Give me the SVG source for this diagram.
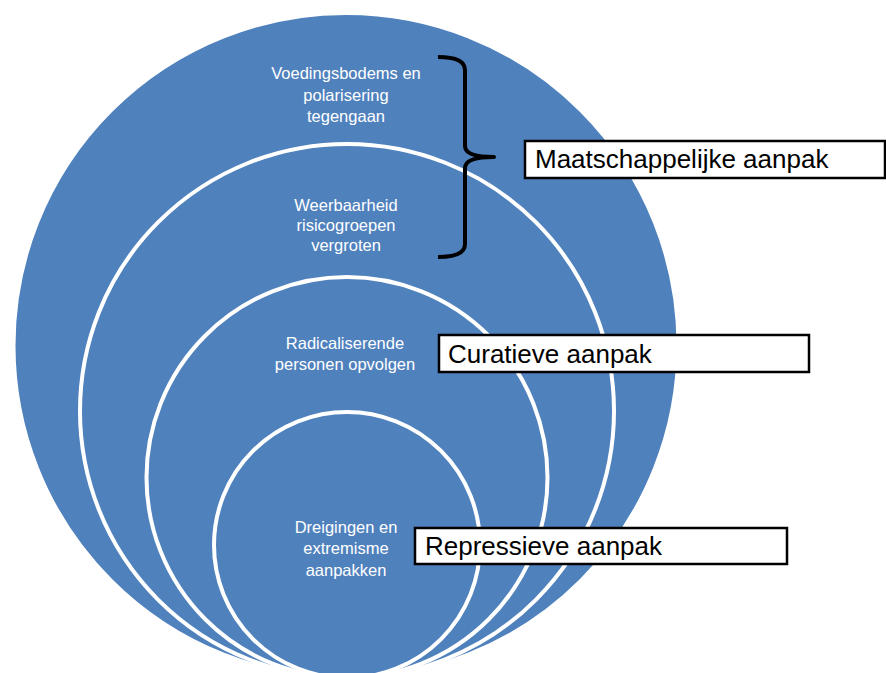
<svg xmlns="http://www.w3.org/2000/svg" width="886" height="673" viewBox="0 0 886 673">
<style>
.ring{fill:#4F81BD;stroke:#FFFFFF;stroke-width:4}
.inner{font-family:"Liberation Sans",Arial,sans-serif;font-size:16.5px;fill:#FFFFFF;text-anchor:middle}
.box{fill:#FFFFFF;stroke:#000000;stroke-width:2.5}
.lbl{font-family:"Liberation Sans",Arial,sans-serif;font-size:26px;fill:#000000}
.brace{fill:none;stroke:#000000;stroke-width:4;stroke-linejoin:round;stroke-linecap:butt}
</style>
<rect width="886" height="673" fill="#FFFFFF"/>
<g id="ring-voedingsbodems">
<circle class="ring" cx="346" cy="345.5" r="332.5"/>
<text class="inner" x="346" y="79">Voedingsbodems en</text>
<text class="inner" x="346" y="101">polarisering</text>
<text class="inner" x="346" y="122">tegengaan</text>
</g>
<g id="ring-weerbaarheid">
<circle class="ring" cx="347" cy="411" r="267"/>
<text class="inner" x="346" y="211">Weerbaarheid</text>
<text class="inner" x="346" y="231">risicogroepen</text>
<text class="inner" x="346" y="251">vergroten</text>
</g>
<g id="ring-radicaliserende">
<circle class="ring" cx="347" cy="477.5" r="200.5"/>
<text class="inner" x="345" y="349">Radicaliserende</text>
<text class="inner" x="345" y="370">personen opvolgen</text>
</g>
<g id="ring-dreigingen">
<circle class="ring" cx="347" cy="545" r="133"/>
<text class="inner" x="346" y="533">Dreigingen en</text>
<text class="inner" x="346" y="554">extremisme</text>
<text class="inner" x="346" y="576">aanpakken</text>
</g>
<g id="connectors">
<path class="brace" d="M438,57 Q465,57 465,70 L465,146 Q465,157 494,157 Q465,157 465,168 L465,244 Q465,257 438,257"/>
</g>
<g id="label-maatschappelijk">
<rect class="box" x="525" y="141" width="360" height="37"/>
<text class="lbl" x="535" y="168">Maatschappelijke aanpak</text>
</g>
<g id="label-curatief">
<rect class="box" x="439" y="335" width="370" height="37"/>
<text class="lbl" x="448" y="363">Curatieve aanpak</text>
</g>
<g id="label-repressief">
<rect class="box" x="415" y="528" width="372" height="36"/>
<text class="lbl" x="425" y="555">Repressieve aanpak</text>
</g>
</svg>
